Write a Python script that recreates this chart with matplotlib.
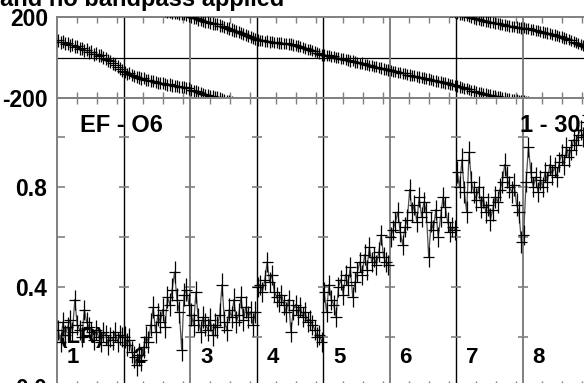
import numpy as np
import matplotlib
matplotlib.use("Agg")
import matplotlib.pyplot as plt

plt.rcParams["font.family"] = ["Liberation Sans", "DejaVu Sans"]
plt.rcParams["font.weight"] = "bold"

# labels
title = "and no bandpass applied"
baseline_label = "EF - O6"
chan_label = "1 - 30"
pol_label = "(LR)"
if_labels = ["1", "2", "3", "4", "5", "6", "7", "8"]

# phase (deg) per IF
phase_if = [
    [84, 76, 78, 68, 71, 60, 63, 52, 55, 44, 46, 35, 38, 26, 28, 17, 19, 8, 10, -2, -5, -14, -18, -28, -35, -45, -55, -66],
    [-72, -80, -78, -88, -90, -96, -99, -104, -102, -110, -112, -116, -114, -121, -124, -126, -125, -131, -134, -133, -138, -140, -139, -144, -146, -145, -150, -153],
    [-160, -166, -164, -172, -176, -179, -184, -186, -190, 168, 164, 166, 158, 155, 152, 146, 143, 138, 133, 130, 124, 120, 116, 110, 106, 101, 95, 90],
    [87, 84, 85, 80, 81, 77, 78, 74, 75, 71, 72, 69, 70, 66, 66, 62, 60, 56, 54, 49, 46, 41, 38, 33, 30, 24, 19, 13],
    [13, 9, 10, 4, 5, 0, -1, -6, -5, -11, -12, -17, -16, -22, -24, -28, -27, -33, -35, -39, -40, -45, -46, -50, -52, -56, -58, -62],
    [-64, -69, -68, -73, -75, -79, -78, -84, -86, -89, -90, -95, -97, -100, -101, -105, -107, -110, -112, -116, -117, -121, -123, -126, -128, -132, -134, -138],
    [-141, -145, -147, -152, -154, -158, -164, -166, -170, -172, -175, -178, -181, -183, 175, 172, 170, 168, 166, 163, 161, 158, 156, 154, 152, 150, 148, 146],
    [147, 143, 144, 139, 138, 134, 133, 128, 126, 123, 121, 117, 115, 111, 108, 104, 101, 96, 93, 88, 84, 79, 74, 69, 64, 58, 52, 46],
]
phase_err = [32, 30, 30, 28, 28, 28, 28, 28]

# amplitude per IF
amp_if = [
    [0.23, 0.18, 0.26, 0.21, 0.24, 0.27, 0.22, 0.35, 0.25, 0.23, 0.20, 0.31, 0.26, 0.24, 0.22, 0.19, 0.23, 0.20, 0.18, 0.22, 0.21, 0.17, 0.20, 0.19, 0.22, 0.18, 0.21, 0.20],
    [0.20, 0.17, 0.19, 0.14, 0.12, 0.09, 0.13, 0.11, 0.16, 0.20, 0.18, 0.25, 0.32, 0.22, 0.29, 0.26, 0.31, 0.24, 0.36, 0.33, 0.39, 0.46, 0.35, 0.30, 0.15, 0.37, 0.39, 0.33],
    [0.29, 0.25, 0.38, 0.27, 0.22, 0.28, 0.25, 0.23, 0.27, 0.21, 0.25, 0.24, 0.29, 0.41, 0.26, 0.23, 0.31, 0.28, 0.35, 0.26, 0.29, 0.36, 0.27, 0.32, 0.28, 0.30, 0.25, 0.30],
    [0.40, 0.41, 0.38, 0.43, 0.50, 0.42, 0.45, 0.38, 0.36, 0.34, 0.37, 0.33, 0.30, 0.35, 0.22, 0.31, 0.33, 0.29, 0.32, 0.28, 0.30, 0.26, 0.27, 0.25, 0.23, 0.20, 0.21, 0.18],
    [0.38, 0.30, 0.41, 0.35, 0.33, 0.28, 0.40, 0.43, 0.37, 0.45, 0.41, 0.48, 0.36, 0.42, 0.46, 0.50, 0.45, 0.53, 0.47, 0.56, 0.50, 0.52, 0.49, 0.54, 0.61, 0.52, 0.50, 0.49],
    [0.60, 0.63, 0.66, 0.70, 0.62, 0.57, 0.64, 0.67, 0.79, 0.70, 0.73, 0.66, 0.76, 0.68, 0.74, 0.70, 0.52, 0.66, 0.63, 0.71, 0.60, 0.68, 0.76, 0.72, 0.66, 0.62, 0.64, 0.63],
    [0.86, 0.80, 0.91, 0.78, 0.70, 0.94, 0.82, 0.78, 0.75, 0.80, 0.72, 0.76, 0.70, 0.73, 0.67, 0.71, 0.76, 0.74, 0.79, 0.82, 0.89, 0.84, 0.80, 0.78, 0.81, 0.73, 0.70, 0.58],
    [0.61, 0.82, 0.96, 0.86, 0.80, 0.84, 0.78, 0.83, 0.80, 0.86, 0.82, 0.89, 0.85, 0.88, 0.84, 0.90, 0.93, 0.89, 0.96, 0.92, 0.95, 0.99, 0.97, 1.01, 1.03, 1.00, 1.06, 1.09],
]
amp_err = [0.04, 0.045, 0.045, 0.04, 0.04, 0.04, 0.045, 0.04]

sep_colors = ["black", "#808080", "black", "black", "#808080", "black", "#808080"]
GRAY = "#808080"

W, H = 584, 383
n_if = len(amp_if)


def px_box(x0, y0, x1, y1):
    return [x0 / W, 1 - y1 / H, (x1 - x0) / W, (y1 - y0) / H]


fig = plt.figure(figsize=(W / 100, H / 100), dpi=100)
ax_ph = fig.add_axes(px_box(57, 17, 589, 98))
ax_amp = fig.add_axes(px_box(57, 98, 589, 387))

# phase panel: points near +-180 are also drawn wrapped
for i, vals in enumerate(phase_if):
    x = i + (np.arange(len(vals)) + 0.5) / len(vals)
    v = np.array(vals, dtype=float)
    for shift in (0, 360, -360):
        ax_ph.errorbar(x, v + shift, xerr=0.085, yerr=phase_err[i], fmt="none",
                       ecolor="black", elinewidth=0.9, capsize=0, zorder=3)

# amplitude panel
for i, vals in enumerate(amp_if):
    x = i + (np.arange(len(vals)) + 0.5) / len(vals)
    ax_amp.plot(x, vals, color="#505050", lw=0.9, zorder=2)
    ax_amp.errorbar(x, vals, xerr=0.085, yerr=amp_err[i], fmt="none",
                    ecolor="black", elinewidth=0.9, capsize=0, zorder=3)

ax_ph.set_ylim(-200, 200)
ax_amp.set_ylim(0, 1.156)
ax_ph.axhline(0, color="black", lw=0.9, zorder=1)

xt = [i + f for i in range(n_if) for f in (0.3, 0.6, 0.9)]
amp_ticks = [0.0, 0.2, 0.4, 0.6, 0.8, 1.0]
for ax in (ax_ph, ax_amp):
    ax.set_xlim(0, n_if)
    for b in range(1, n_if):
        ax.axvline(b, color=sep_colors[b - 1], lw=1.0 if sep_colors[b - 1] == "black" else 1.4, zorder=1)
    for sp in ax.spines.values():
        sp.set_color(GRAY)
        sp.set_linewidth(1.4)
    ax.set_xticks(xt)
    ax.set_xticklabels([])
    ax.tick_params(axis="x", direction="in", length=4, width=1.0, color=GRAY,
                   top=True, bottom=True)

ax_ph.set_yticks([-200, 200], ["-200", "200"])
ax_ph.tick_params(axis="y", length=0, pad=6.5, labelsize=16.5)

ax_amp.set_yticks(amp_ticks, ["0.0", "", "0.4", "", "0.8", ""])
ax_amp.tick_params(axis="y", direction="in", length=6, width=1.2, color=GRAY,
                   pad=7, labelsize=16.5)
for b in range(1, n_if):
    ax_amp.plot([b] * (len(amp_ticks) - 1), amp_ticks[1:], ls="none", marker="_",
                ms=7.5, mew=1.2, color=GRAY, zorder=1)

for ax in (ax_ph, ax_amp):
    for lbl in ax.get_yticklabels():
        lbl.set_fontweight("bold")

fig.text(0, 1 - 6 / H, title, ha="left", va="baseline", fontsize=17, fontweight="bold")
ax_amp.text(0.35, 1.02, baseline_label, va="baseline", fontsize=17, fontweight="bold", zorder=1)
ax_amp.text(6.96, 1.02, chan_label, va="baseline", fontsize=17, fontweight="bold", zorder=1)
ax_amp.text(0.045, 0.176, pol_label, va="baseline", fontsize=16, fontweight="bold", zorder=1)
for i, lab in enumerate(if_labels):
    ax_amp.text(i + 0.15, 0.096, lab, va="baseline", fontsize=16, fontweight="bold", zorder=1)

fig.savefig("out.png", dpi=100)
